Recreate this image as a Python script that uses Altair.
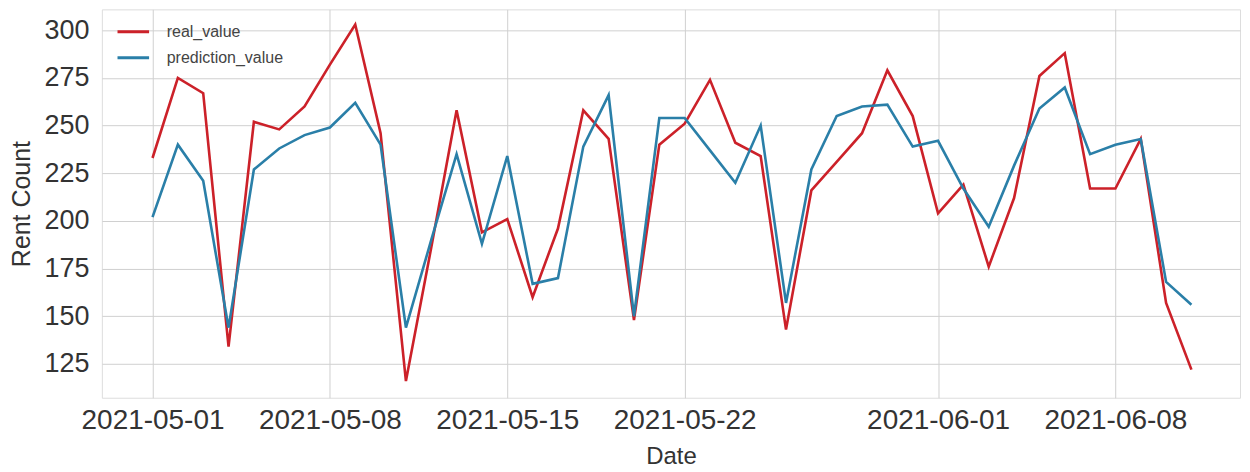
import altair as alt
import pandas as pd

dates = pd.date_range("2021-05-01", "2021-06-11", freq="D").strftime("%Y-%m-%d").tolist()

real_value = [233, 275, 267, 134, 252, 248, 260, 282, 303, 246, 116,
              186, 258, 194, 201, 160, 196, 258, 243, 148, 240, 251,
              274, 241, 234, 143, 216, 231, 246, 279, 255, 204, 219,
              176, 212, 276, 288, 217, 217, 243, 157, 122]

prediction_value = [202, 240, 221, 144, 227, 238, 245, 249, 262, 240, 144,
                    190, 235, 188, 234, 167, 170, 239, 266, 150, 254, 254,
                    237, 220, 250, 157, 227, 255, 260, 261, 239, 242, 217,
                    197, 229, 259, 270, 235, 240, 243, 168, 156]

series_names = ["real_value", "prediction_value"]
series_colors = ["#cc2129", "#2a7fa8"]

tick_dates = ["2021-05-01", "2021-05-08", "2021-05-15", "2021-05-22", "2021-06-01", "2021-06-08"]
y_ticks = [125, 150, 175, 200, 225, 250, 275, 300]

rows = []
for d, r, p in zip(dates, real_value, prediction_value):
    rows.append({"date": d, "series": "real_value", "value": r})
    rows.append({"date": d, "series": "prediction_value", "value": p})
df = pd.DataFrame(rows)


def dt(s, hour=0):
    y, m, d = [int(v) for v in s.split("-")]
    return alt.DateTime(year=y, month=m, date=d, hours=hour, utc=True)


font = "Liberation Sans"

chart = alt.Chart(df).mark_line(strokeWidth=2.6).encode(
    x=alt.X(
        "date:T",
        scale=alt.Scale(type="utc", domain=[dt("2021-04-29"), dt("2021-06-12", 22)], nice=False),
        axis=alt.Axis(
            values=[dt(t) for t in tick_dates],
            format="%Y-%m-%d",
            formatType="time",
            title="Date",
            titleFontSize=24,
            titleFontWeight="normal",
            titleColor="#333333",
            titlePadding=10,
            labelFontSize=28,
            labelColor="#333333",
            labelPadding=9,
            ticks=False,
            domain=False,
            gridColor="#d0d0d0",
            gridWidth=1,
            labelFlush=False,
        ),
    ),
    y=alt.Y(
        "value:Q",
        scale=alt.Scale(domain=[107.24, 310.97], nice=False, zero=False),
        axis=alt.Axis(
            values=y_ticks,
            title="Rent Count",
            titleFontSize=25,
            titleFontWeight="normal",
            titleColor="#333333",
            titlePadding=9,
            labelFontSize=27,
            labelColor="#333333",
            labelPadding=13,
            ticks=False,
            domain=False,
            gridColor="#d0d0d0",
            gridWidth=1,
        ),
    ),
    color=alt.Color(
        "series:N",
        scale=alt.Scale(domain=series_names, range=series_colors),
        sort=series_names,
        legend=alt.Legend(
            title=None,
            orient="none",
            legendX=14,
            legendY=5,
            symbolType="stroke",
            symbolStrokeWidth=3,
            symbolSize=1000,
            labelFontSize=16,
            labelColor="#444444",
            labelOffset=16,
            rowPadding=-4,
        ),
    ),
).properties(
    width=1140,
    height=389,
    autosize=alt.AutoSizeParams(type="none"),
    padding={"left": 94, "top": 1, "right": 2, "bottom": 70},
).configure_view(
    stroke="#cccccc", strokeWidth=1.5
).configure(
    font=font
)

chart.save("out.html", embed_options={"renderer": "svg", "actions": False})
